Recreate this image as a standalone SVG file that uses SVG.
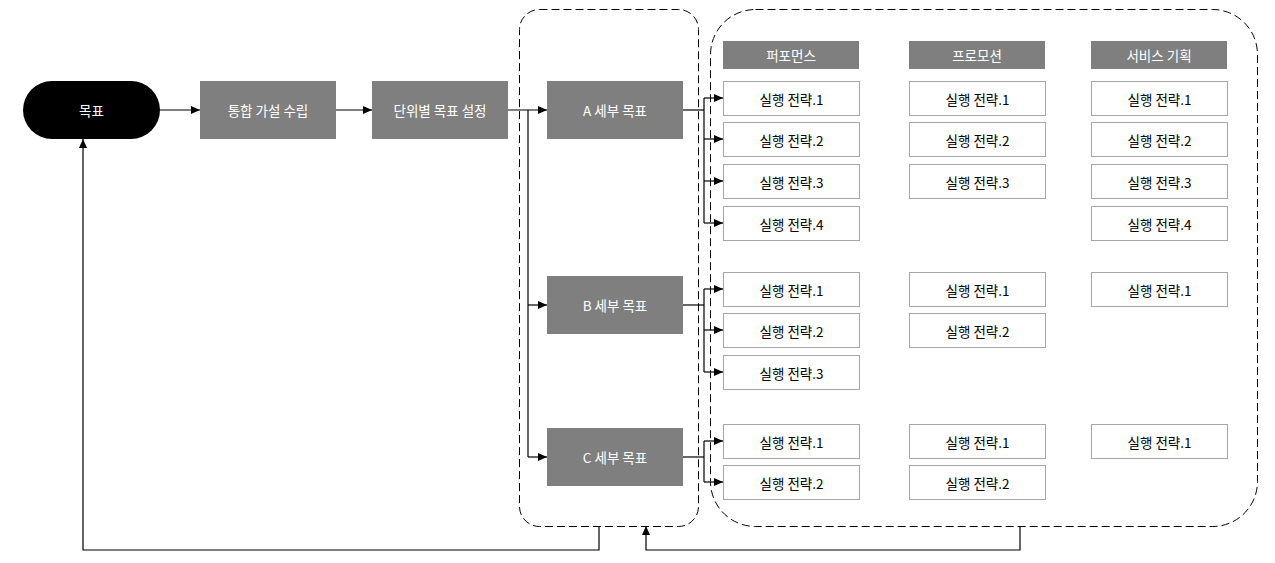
<svg xmlns="http://www.w3.org/2000/svg" width="1275" height="563" viewBox="0 0 1275 563">
<defs>
<marker id="arr" markerWidth="10" markerHeight="8" refX="9" refY="4" orient="auto" markerUnits="userSpaceOnUse">
<path d="M0,0 L9,4 L0,8 Z" fill="#000"/>
</marker>
<style>
text{font-family:"Noto Sans CJK KR","Noto Sans",sans-serif;font-size:13.5px;font-weight:400;text-anchor:middle;dominant-baseline:central}
.dark{fill:#7f7f7f}
.wt{fill:#fff}
.bt{fill:#000}
.sb{fill:#fff;stroke:#a6a6a6;stroke-width:1}
.grp{fill:none;stroke:#000;stroke-width:1;stroke-dasharray:8,4}
.ln{fill:none;stroke:#000;stroke-width:1.2}
.ar{fill:none;stroke:#000;stroke-width:1.2;marker-end:url(#arr)}
</style>
</defs>
<rect width="1275" height="563" fill="#fff"/>

<g id="groups">
<rect class="grp" x="519.5" y="9.5" width="179" height="517" rx="20"/>
<rect class="grp" x="710.5" y="9.5" width="547" height="517" rx="45"/>
</g>

<g id="connectors">
<line class="ar" x1="160" y1="110" x2="200" y2="110"/>
<line class="ar" x1="336" y1="110" x2="372" y2="110"/>
<line class="ar" x1="508" y1="110" x2="547" y2="110"/>
<polyline class="ln" points="528,110 528,457"/>
<line class="ar" x1="528" y1="305" x2="547" y2="305"/>
<line class="ar" x1="528" y1="457" x2="547" y2="457"/>
<line class="ln" x1="683" y1="110" x2="704" y2="110"/>
<line class="ln" x1="704" y1="98" x2="704" y2="223"/>
<line class="ar" x1="704" y1="98" x2="723" y2="98"/>
<line class="ar" x1="704" y1="139" x2="723" y2="139"/>
<line class="ar" x1="704" y1="181" x2="723" y2="181"/>
<line class="ar" x1="704" y1="223" x2="723" y2="223"/>
<line class="ln" x1="683" y1="305" x2="704" y2="305"/>
<line class="ln" x1="704" y1="289" x2="704" y2="372"/>
<line class="ar" x1="704" y1="289" x2="723" y2="289"/>
<line class="ar" x1="704" y1="330" x2="723" y2="330"/>
<line class="ar" x1="704" y1="372" x2="723" y2="372"/>
<line class="ln" x1="683" y1="457" x2="704" y2="457"/>
<line class="ln" x1="704" y1="441" x2="704" y2="482"/>
<line class="ar" x1="704" y1="441" x2="723" y2="441"/>
<line class="ar" x1="704" y1="482" x2="723" y2="482"/>
<polyline class="ar" points="599,526 599,550 83,550 83,139"/>
<polyline class="ar" points="1020,526 1020,550 646,550 646,526"/>
</g>

<g id="n-goal"><rect x="23" y="81" width="137" height="58" rx="29" fill="#000"/><text class="wt" x="91.5" y="110">목표</text></g>
<g id="n-hyp"><rect class="dark" x="200" y="81" width="136" height="58"/><text class="wt" x="268" y="110">통합 가설 수립</text></g>
<g id="n-unit"><rect class="dark" x="372" y="81" width="136" height="58"/><text class="wt" x="440" y="110">단위별 목표 설정</text></g>
<g id="n-a"><rect class="dark" x="547" y="81" width="136" height="58"/><text class="wt" x="615" y="110">A 세부 목표</text></g>
<g id="n-b"><rect class="dark" x="547" y="276" width="136" height="58"/><text class="wt" x="615" y="305">B 세부 목표</text></g>
<g id="n-c"><rect class="dark" x="547" y="428" width="136" height="58"/><text class="wt" x="615" y="457">C 세부 목표</text></g>

<g id="h-perf"><rect class="dark" x="723" y="41" width="136" height="28"/><text class="wt" x="791" y="55">퍼포먼스</text></g>
<g id="h-promo"><rect class="dark" x="909" y="41" width="136" height="28"/><text class="wt" x="977" y="55">프로모션</text></g>
<g id="h-svc"><rect class="dark" x="1091" y="41" width="136" height="28"/><text class="wt" x="1159" y="55">서비스 기획</text></g>

<g id="pa1"><rect class="sb" x="723.5" y="81.5" width="136" height="34"/><text class="bt" x="791.5" y="98.5">실행 전략.1</text></g>
<g id="pa2"><rect class="sb" x="723.5" y="122.5" width="136" height="34"/><text class="bt" x="791.5" y="139.5">실행 전략.2</text></g>
<g id="pa3"><rect class="sb" x="723.5" y="164.5" width="136" height="34"/><text class="bt" x="791.5" y="181.5">실행 전략.3</text></g>
<g id="pa4"><rect class="sb" x="723.5" y="206.5" width="136" height="34"/><text class="bt" x="791.5" y="223.5">실행 전략.4</text></g>
<g id="pb1"><rect class="sb" x="723.5" y="272.5" width="136" height="34"/><text class="bt" x="791.5" y="289.5">실행 전략.1</text></g>
<g id="pb2"><rect class="sb" x="723.5" y="313.5" width="136" height="34"/><text class="bt" x="791.5" y="330.5">실행 전략.2</text></g>
<g id="pb3"><rect class="sb" x="723.5" y="355.5" width="136" height="34"/><text class="bt" x="791.5" y="372.5">실행 전략.3</text></g>
<g id="pc1"><rect class="sb" x="723.5" y="424.5" width="136" height="34"/><text class="bt" x="791.5" y="441.5">실행 전략.1</text></g>
<g id="pc2"><rect class="sb" x="723.5" y="465.5" width="136" height="34"/><text class="bt" x="791.5" y="482.5">실행 전략.2</text></g>

<g id="ra1"><rect class="sb" x="909.5" y="81.5" width="136" height="34"/><text class="bt" x="977.5" y="98.5">실행 전략.1</text></g>
<g id="ra2"><rect class="sb" x="909.5" y="122.5" width="136" height="34"/><text class="bt" x="977.5" y="139.5">실행 전략.2</text></g>
<g id="ra3"><rect class="sb" x="909.5" y="164.5" width="136" height="34"/><text class="bt" x="977.5" y="181.5">실행 전략.3</text></g>
<g id="rb1"><rect class="sb" x="909.5" y="272.5" width="136" height="34"/><text class="bt" x="977.5" y="289.5">실행 전략.1</text></g>
<g id="rb2"><rect class="sb" x="909.5" y="313.5" width="136" height="34"/><text class="bt" x="977.5" y="330.5">실행 전략.2</text></g>
<g id="rc1"><rect class="sb" x="909.5" y="424.5" width="136" height="34"/><text class="bt" x="977.5" y="441.5">실행 전략.1</text></g>
<g id="rc2"><rect class="sb" x="909.5" y="465.5" width="136" height="34"/><text class="bt" x="977.5" y="482.5">실행 전략.2</text></g>

<g id="sa1"><rect class="sb" x="1091.5" y="81.5" width="136" height="34"/><text class="bt" x="1159.5" y="98.5">실행 전략.1</text></g>
<g id="sa2"><rect class="sb" x="1091.5" y="122.5" width="136" height="34"/><text class="bt" x="1159.5" y="139.5">실행 전략.2</text></g>
<g id="sa3"><rect class="sb" x="1091.5" y="164.5" width="136" height="34"/><text class="bt" x="1159.5" y="181.5">실행 전략.3</text></g>
<g id="sa4"><rect class="sb" x="1091.5" y="206.5" width="136" height="34"/><text class="bt" x="1159.5" y="223.5">실행 전략.4</text></g>
<g id="sb1"><rect class="sb" x="1091.5" y="272.5" width="136" height="34"/><text class="bt" x="1159.5" y="289.5">실행 전략.1</text></g>
<g id="sc1"><rect class="sb" x="1091.5" y="424.5" width="136" height="34"/><text class="bt" x="1159.5" y="441.5">실행 전략.1</text></g>
</svg>
